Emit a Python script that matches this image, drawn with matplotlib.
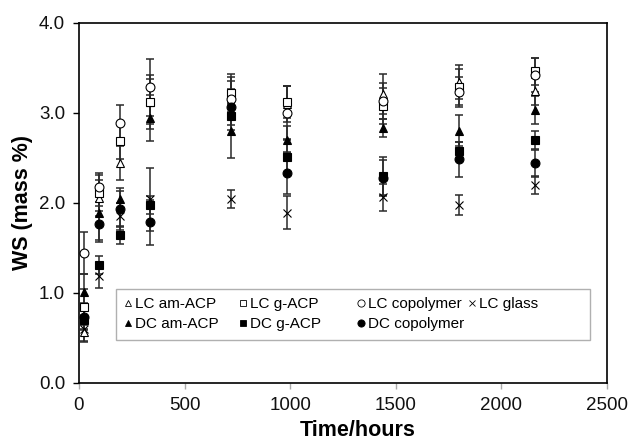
import matplotlib
matplotlib.use("Agg")
import matplotlib.pyplot as plt
from matplotlib.lines import Line2D
from matplotlib.patches import Rectangle
from matplotlib.legend import Legend

plt.rcParams['font.family'] = ['Liberation Sans', 'DejaVu Sans']

times = [24, 96, 192, 336, 720, 984, 1440, 1800, 2160]

lc_am_acp = [0.56, 2.05, 2.44, 3.12, 3.20, 3.10, 3.21, 3.34, 3.24]
lc_am_acp_err = [0.10, 0.20, 0.19, 0.30, 0.20, 0.20, 0.22, 0.19, 0.15]
lc_g_acp = [0.84, 2.11, 2.69, 3.12, 3.22, 3.12, 3.07, 3.28, 3.46]
lc_g_acp_err = [0.20, 0.20, 0.20, 0.25, 0.21, 0.18, 0.20, 0.20, 0.15]
lc_copolymer = [1.44, 2.17, 2.88, 3.28, 3.15, 3.00, 3.13, 3.23, 3.42]
lc_copolymer_err = [0.23, 0.16, 0.21, 0.32, 0.20, 0.30, 0.20, 0.17, 0.19]
lc_glass = [0.60, 1.18, 1.85, 2.04, 2.04, 1.89, 2.06, 1.97, 2.20]
lc_glass_err = [0.15, 0.13, 0.15, 0.35, 0.10, 0.18, 0.15, 0.11, 0.10]
dc_am_acp = [1.01, 1.89, 2.04, 2.94, 2.80, 2.70, 2.83, 2.80, 3.03]
dc_am_acp_err = [0.20, 0.30, 0.12, 0.26, 0.30, 0.15, 0.10, 0.17, 0.16]
dc_g_acp = [0.70, 1.31, 1.64, 1.97, 2.96, 2.51, 2.30, 2.57, 2.70]
dc_g_acp_err = [0.10, 0.10, 0.10, 0.10, 0.15, 0.20, 0.21, 0.10, 0.10]
dc_copolymer = [0.73, 1.76, 1.93, 1.78, 3.06, 2.33, 2.27, 2.48, 2.44]
dc_copolymer_err = [0.15, 0.20, 0.20, 0.25, 0.20, 0.23, 0.20, 0.19, 0.15]

series = [
    ("LC am-ACP", lc_am_acp, lc_am_acp_err, '^', 'white'),
    ("DC am-ACP", dc_am_acp, dc_am_acp_err, '^', 'black'),
    ("LC g-ACP", lc_g_acp, lc_g_acp_err, 's', 'white'),
    ("DC g-ACP", dc_g_acp, dc_g_acp_err, 's', 'black'),
    ("LC copolymer", lc_copolymer, lc_copolymer_err, 'o', 'white'),
    ("DC copolymer", dc_copolymer, dc_copolymer_err, 'o', 'black'),
    ("LC glass", lc_glass, lc_glass_err, 'x', 'black'),
]

fig = plt.figure(figsize=(6.36, 4.42), dpi=100)
ax = fig.add_axes([0.1242, 0.1342, 0.8302, 0.8145])

proxies = []
for label, vals, errs, mk, fc in series:
    ax.errorbar(times, vals, yerr=errs, fmt='none', ecolor='#2a2a2a',
                elinewidth=1.1, capsize=2.6, capthick=1.1, zorder=2)
    ax.plot(times, vals, linestyle='none', marker=mk, markersize=6.4,
            markerfacecolor=fc, markeredgecolor='black',
            markeredgewidth=0.8, color='black', zorder=3)
    proxies.append(Line2D([], [], linestyle='none', marker=mk,
                          markersize=4.8 if mk != 'o' else 5.2,
                          markerfacecolor=fc, markeredgecolor='black',
                          markeredgewidth=0.6, color='black', label=label))

ax.set_xlim(0, 2500)
ax.set_ylim(0, 4.0)
ax.set_xticks([0, 500, 1000, 1500, 2000, 2500])
ax.set_yticks([0, 1, 2, 3, 4])
ax.set_yticklabels(['0.0', '1.0', '2.0', '3.0', '4.0'])
ax.tick_params(axis='both', labelsize=13.5, direction='out', labelcolor='#111111')
ax.tick_params(axis='y', length=4, width=1, pad=6)
ax.tick_params(axis='x', length=4, width=1, pad=6, color='#aaaaaa')
for s in ax.spines.values():
    s.set_linewidth(1.2)

ax.set_xlabel('Time/hours', fontsize=15.5, fontweight='bold', labelpad=6)
ax.xaxis.set_label_coords(0.528, -0.105)
ax.set_ylabel('WS (mass %)', fontsize=15.5, fontweight='bold', labelpad=4)

# legend frame
frame = Rectangle((0.070, 0.1186), 0.898, 0.1416, transform=ax.transAxes,
                  facecolor='white', edgecolor='#b0b0b0', linewidth=1.0, zorder=4)
ax.add_patch(frame)

col_x = [0.0856, 0.3034, 0.527, 0.737]
columns = [proxies[0:2], proxies[2:4], proxies[4:6], proxies[6:7]]
for cx, hs in zip(col_x, columns):
    lg = Legend(ax, hs, [h.get_label() for h in hs], loc='upper left',
                bbox_to_anchor=(cx, 0.238), bbox_transform=ax.transAxes,
                frameon=False, fontsize=11, borderpad=0, borderaxespad=0,
                handlelength=0.5, handletextpad=0.2, labelspacing=0.4)
    lg.set_zorder(5)
    ax.add_artist(lg)

fig.savefig('out.png', dpi=100)
